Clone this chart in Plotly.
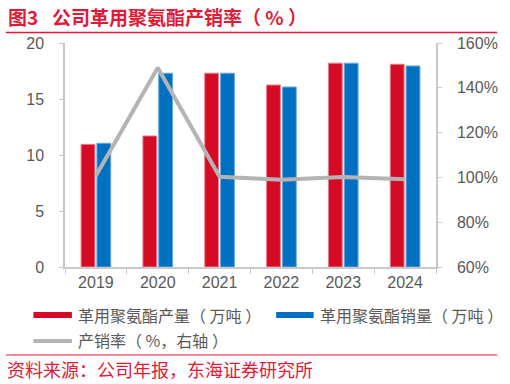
import plotly.graph_objects as go

years = ["2019", "2020", "2021", "2022", "2023", "2024"]
production = [10.95, 11.7, 17.3, 16.25, 18.2, 18.1]
sales = [11.05, 17.3, 17.3, 16.07, 18.2, 17.95]
rate = [100.7, 149.0, 100.3, 99.0, 100.2, 99.2]

left_ticks = [0, 5, 10, 15, 20]
right_ticks = [60, 80, 100, 120, 140, 160]
right_tick_text = [f"{v}%" for v in right_ticks]

SP = "\u2002"
name_prod = "革用聚氨酯产量（ 万吨 ）"
name_sales = "革用聚氨酯销量（ 万吨 ）"
name_rate = "产销率（ %，右轴 ）"
title_text = f"图3{SP} 公司革用聚氨酯产销率（ % ）"
source_text = "资料来源：公司年报，东海证券研究所"

RED = "#D50B25"
BLUE = "#0070C0"
GRAY_LINE = "#B4B4B4"
AXIS = "#C8C8C8"
TXT = "#595959"
TITLE_RED = "#E31937"

W, H = 510, 384
L, R, T, B = 65, 69, 43, 117
PW, PH = W - L - R, H - T - B

def px(x):
    return (x - L) / PW

def py(y):
    return (H - B - y) / PH

fig = go.Figure()
fig.add_trace(go.Bar(x=years, y=production, name=name_prod, marker=dict(color=RED, line=dict(color="#EC7C8A", width=1)), showlegend=False))
fig.add_trace(go.Bar(x=years, y=sales, name=name_sales, marker=dict(color=BLUE, line=dict(color="#66A9DE", width=1)), showlegend=False))
fig.add_trace(go.Scatter(x=years, y=rate, name=name_rate, mode="lines", line=dict(color=GRAY_LINE, width=4), yaxis="y2", showlegend=False))

font_cjk = "Noto Sans CJK SC, Liberation Sans, Arial, sans-serif"
font_num = "Liberation Sans, Arial, sans-serif"

fig.update_layout(
    width=W, height=H,
    margin=dict(l=L, r=R, t=T, b=B, pad=0),
    paper_bgcolor="white", plot_bgcolor="white",
    barmode="group", bargap=0.488, bargroupgap=0.125,
    font=dict(family=font_num, size=16, color=TXT),
    xaxis=dict(type="category", showline=True, linecolor=AXIS, linewidth=1.5,
               ticks="outside", ticklen=5, tickcolor=AXIS, tickson="boundaries",
               tickfont=dict(size=16, color=TXT, family=font_num), showgrid=False),
    yaxis=dict(range=[0, 20], tickvals=left_ticks, showline=True, linecolor=AXIS, linewidth=1.5,
               ticks="outside", ticklen=4, tickcolor=AXIS, showgrid=False, zeroline=False,
               tickfont=dict(size=16, color=TXT, family=font_num), ticklabelstandoff=12),
    yaxis2=dict(range=[60, 160], tickvals=right_ticks, ticktext=right_tick_text, overlaying="y", side="right",
                showline=True, linecolor=AXIS, linewidth=1.5, ticks="outside", ticklen=4, tickcolor=AXIS,
                showgrid=False, zeroline=False, tickfont=dict(size=16, color=TXT, family=font_num),
                ticklabelstandoff=12),
)

shapes = []
annotations = []
# title & source rules
shapes.append(dict(type="line", xref="paper", yref="paper", x0=px(5), x1=px(503), y0=py(32.5), y1=py(32.5), line=dict(color=TITLE_RED, width=1.5)))
shapes.append(dict(type="line", xref="paper", yref="paper", x0=px(5), x1=px(503), y0=py(355), y1=py(355), line=dict(color=TITLE_RED, width=1.2)))
annotations.append(dict(text="<b>" + title_text + "</b>", xref="paper", yref="paper", x=px(5), y=py(17), xanchor="left", yanchor="middle", showarrow=False, font=dict(size=19, color=TITLE_RED, family=font_cjk)))
annotations.append(dict(text=source_text, xref="paper", yref="paper", x=px(4), y=py(369), xanchor="left", yanchor="middle", showarrow=False, font=dict(size=18, color=TITLE_RED, family=font_cjk)))

# custom legend
shapes.append(dict(type="rect", xref="paper", yref="paper", x0=px(33), x1=px(72), y0=py(312), y1=py(318), fillcolor=RED, line=dict(width=0)))
shapes.append(dict(type="rect", xref="paper", yref="paper", x0=px(279), x1=px(317), y0=py(312), y1=py(318), fillcolor=BLUE, line=dict(width=0)))
shapes.append(dict(type="line", xref="paper", yref="paper", x0=px(33), x1=px(72), y0=py(341), y1=py(341), line=dict(color=GRAY_LINE, width=4)))
annotations.append(dict(text=name_prod, xref="paper", yref="paper", x=px(76), y=py(315), xanchor="left", yanchor="middle", showarrow=False, font=dict(size=16, color=TXT, family=font_cjk)))
annotations.append(dict(text=name_sales, xref="paper", yref="paper", x=px(321), y=py(315), xanchor="left", yanchor="middle", showarrow=False, font=dict(size=16, color=TXT, family=font_cjk)))
annotations.append(dict(text=name_rate, xref="paper", yref="paper", x=px(76), y=py(340), xanchor="left", yanchor="middle", showarrow=False, font=dict(size=16, color=TXT, family=font_cjk)))

fig.update_layout(shapes=shapes, annotations=annotations)
fig.write_html("out.html")
